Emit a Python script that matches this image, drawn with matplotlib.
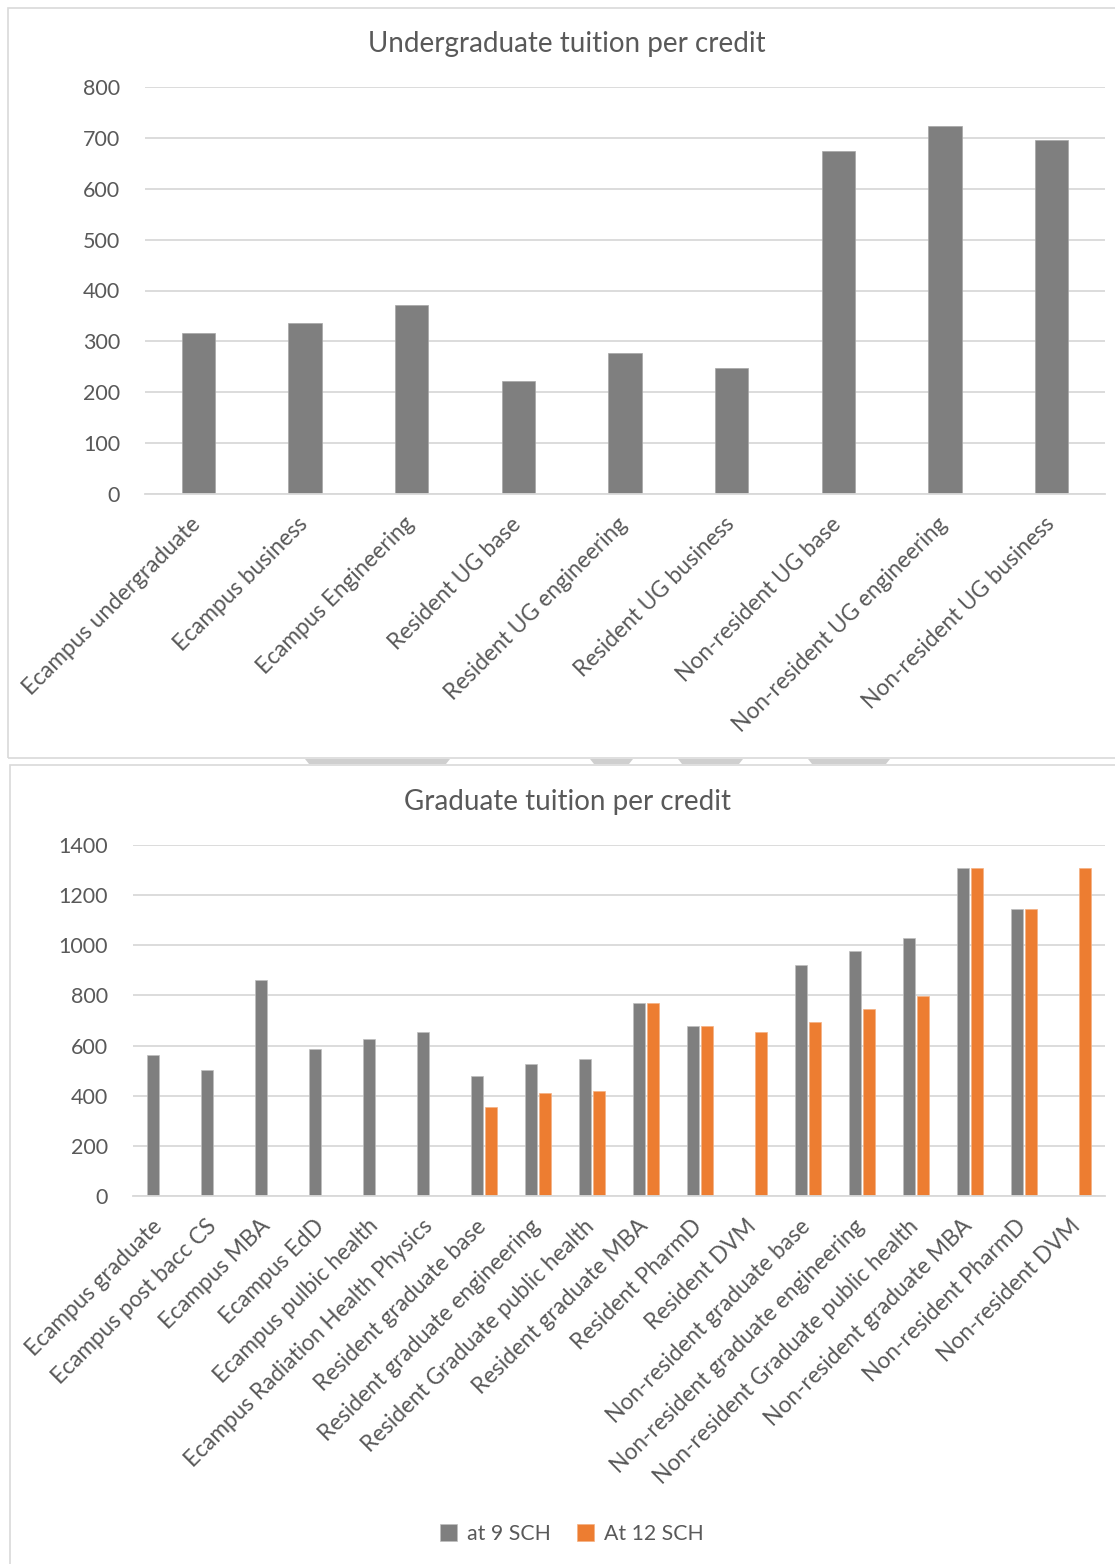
import numpy as np
import matplotlib.pyplot as plt
import matplotlib.transforms as mtrans
from matplotlib.patches import Rectangle, Polygon

plt.rcParams['font.family'] = ['Lato', 'DejaVu Sans']

# undergraduate chart data
ug_labels = ['Ecampus undergraduate', 'Ecampus business', 'Ecampus Engineering',
             'Resident UG base', 'Resident UG engineering', 'Resident UG business',
             'Non-resident UG base', 'Non-resident UG engineering',
             'Non-resident UG business']
ug_values = [317, 337, 371, 223, 277, 248, 674, 723, 695]

# graduate chart data
grad_labels = ['Ecampus graduate', 'Ecampus post bacc CS', 'Ecampus MBA', 'Ecampus EdD',
               'Ecampus pulbic health', 'Ecampus Radiation Health Physics',
               'Resident graduate base', 'Resident graduate engineering',
               'Resident Graduate public health', 'Resident graduate MBA',
               'Resident PharmD', 'Resident DVM', 'Non-resident graduate base',
               'Non-resident graduate engineering', 'Non-resident Graduate public health',
               'Non-resident graduate MBA', 'Non-resident PharmD', 'Non-resident DVM']
at_9_sch = [561, 504, 861, 586, 627, 654, 477, 528, 545, 769, 678, np.nan,
            920, 977, 1028, 1310, 1145, np.nan]
at_12_sch = [np.nan, np.nan, np.nan, np.nan, np.nan, np.nan, 353, 411, 419, 769, 678, 654,
             695, 745, 796, 1310, 1145, 1310]

GRAY = '#7f7f7f'
ORANGE = '#ed7d31'
TXT = '#595959'
GRID = '#d9d9d9'

W, H = 1115, 1564
fig = plt.figure(figsize=(W / 100, H / 100), dpi=100)


def fx(px):
    return px / W


def fy(py):
    return 1 - py / H


# chart frames
fig.add_artist(Rectangle((fx(8), fy(758)), fx(1120 - 8), 750 / H, transform=fig.transFigure,
                         fill=False, edgecolor=GRID, linewidth=1.2))
fig.add_artist(Rectangle((fx(10), fy(1570)), fx(1120 - 10), (1570 - 765) / H,
                         transform=fig.transFigure, fill=False, edgecolor=GRID, linewidth=1.2))
# bits of shapes peeking out between the two frames
for x0, x1 in [(305, 450), (590, 633), (678, 743), (808, 890)]:
    pts = [(fx(x0), fy(759)), (fx(x1), fy(759)), (fx(x1 - 4), fy(764)), (fx(x0 + 4), fy(764))]
    fig.add_artist(Polygon(pts, closed=True, transform=fig.transFigure,
                           facecolor='#cfcfcf', edgecolor='none'))


def style_axes(ax, ymax, step):
    ax.set_ylim(0, ymax)
    ax.set_yticks(np.arange(0, ymax + 1, step))
    ax.grid(axis='y', color=GRID, linewidth=1.3)
    ax.set_axisbelow(True)
    for s in ['top', 'right', 'left']:
        ax.spines[s].set_visible(False)
    ax.spines['bottom'].set_color(GRID)
    ax.spines['bottom'].set_linewidth(1.3)
    ax.tick_params(axis='both', length=0, colors=TXT)
    ax.tick_params(axis='y', pad=18, labelsize=15.5)
    ax.tick_params(axis='x', pad=14, labelsize=16.3)


def shift_labels(ax):
    # nudge rotated labels a little left, like Excel places them
    off = mtrans.ScaledTranslation(-6 / 72, 0, fig.dpi_scale_trans)
    for lbl in ax.get_xticklabels():
        lbl.set_transform(lbl.get_transform() + off)


# top chart
ax1 = fig.add_axes([fx(145), fy(494), fx(1105 - 145), (494 - 87) / H])
x1 = np.arange(len(ug_labels))
ax1.bar(x1, ug_values, width=0.31, color=GRAY, edgecolor='#a6a6a6', linewidth=0.5)
style_axes(ax1, 800, 100)
ax1.set_xlim(-0.5, len(ug_labels) - 0.5)
ax1.set_xticks(x1)
ax1.set_xticklabels(ug_labels, rotation=45, ha='right', rotation_mode='anchor')
shift_labels(ax1)
fig.text(fx(567), fy(44), 'Undergraduate tuition per credit', ha='center', va='center',
         fontsize=20, color=TXT)

# bottom chart
ax2 = fig.add_axes([fx(133), fy(1196), fx(1105 - 133), (1196 - 845) / H])
x2 = np.arange(len(grad_labels))
bw = 0.23
ax2.bar(x2 - 0.13, at_9_sch, width=bw, color=GRAY, edgecolor='#bfbfbf', linewidth=0.5,
        label='at 9 SCH')
ax2.bar(x2 + 0.13, at_12_sch, width=bw, color=ORANGE, edgecolor='#f4b183', linewidth=0.5,
        label='At 12 SCH')
style_axes(ax2, 1400, 200)
ax2.set_xlim(-0.5, len(grad_labels) - 0.5)
ax2.set_xticks(x2)
ax2.set_xticklabels(grad_labels, rotation=45, ha='right', rotation_mode='anchor')
shift_labels(ax2)
fig.text(fx(567), fy(802), 'Graduate tuition per credit', ha='center', va='center',
         fontsize=20, color=TXT)

leg = fig.legend(loc='center', bbox_to_anchor=(fx(572), fy(1534)), ncol=2, frameon=False,
                 fontsize=15.3, handlelength=0.8, handleheight=0.8, columnspacing=1.2,
                 handletextpad=0.5)
for t in leg.get_texts():
    t.set_color(TXT)

fig.savefig('out.png', dpi=100)
